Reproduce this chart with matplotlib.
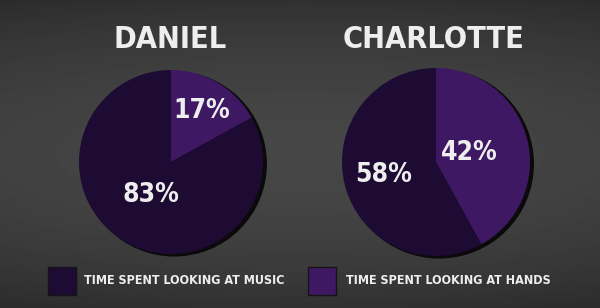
import numpy as np
import matplotlib.pyplot as plt
from matplotlib.patches import Circle, FancyBboxPatch

names = ['DANIEL', 'CHARLOTTE']
categories = ['TIME SPENT LOOKING AT MUSIC', 'TIME SPENT LOOKING AT HANDS']
music = [83, 58]
hands = [17, 42]

dark = '#1d0b33'
light = '#3e1862'
txt = '#eeeeee'
fam = ['DejaVu Sans']

W, H = 600, 308
fig = plt.figure(figsize=(6, 3.08), dpi=100)

# background gradient
bg = fig.add_axes([0, 0, 1, 1])
yy = np.linspace(0, 1, 200)[:, None]
xx = np.linspace(-1, 1, 300)[None, :]
grad = 0.19 + 0.085 * np.sin(np.pi * yy) ** 0.8 - 0.02 * xx ** 2
bg.imshow(grad, cmap='gray', vmin=0, vmax=1, aspect='auto', extent=[0, 1, 0, 1])
bg.set_axis_off()

centers = [(171, 162), (436, 162)]
radii = [92, 94]
# label distance from centre (fraction of radius) for hands, music
dists = [(0.65, 0.42), (0.37, 0.57)]
title_x = [170, 434]
m = 1.1

for i in range(2):
    cx, cy = centers[i]
    r = radii[i] * m
    ax = fig.add_axes([(cx - r) / W, (H - cy - r) / H, 2 * r / W, 2 * r / H])
    # dark shadow on the right
    ax.add_patch(Circle((0.035, -0.02), 1.0, color='#0a0a0a', zorder=0))
    wedges, _ = ax.pie([hands[i], music[i]], colors=[light, dark], startangle=90,
                       counterclock=False, radius=1.0,
                       wedgeprops=dict(linewidth=0))
    ax.set_xlim(-m, m)
    ax.set_ylim(-m, m)
    ax.set_aspect('equal')
    ax.set_axis_off()
    for w, val, d in zip(wedges, [hands[i], music[i]], dists[i]):
        ang = np.deg2rad((w.theta1 + w.theta2) / 2)
        ax.text(d * np.cos(ang), d * np.sin(ang), f'{val}%', color=txt,
                ha='center', va='center', fontsize=19, fontweight='bold',
                fontstretch='condensed', family=fam)
    fig.text(title_x[i] / W, 1 - 40 / H, names[i], color=txt, ha='center',
             va='center', fontsize=22, fontweight='bold',
             fontstretch='condensed', family=fam)

# legend
leg_sq = [48, 308]
leg_txt = [84, 346]
for i, (lab, col) in enumerate(zip(categories, [dark, light])):
    fig.patches.append(FancyBboxPatch((leg_sq[i] / W, 1 - 295 / H), 28 / W, 28 / H,
                                      boxstyle='square,pad=0', transform=fig.transFigure,
                                      facecolor=col, edgecolor='#141414', linewidth=1))
    fig.text(leg_txt[i] / W, 1 - 281 / H, lab, color=txt, ha='left', va='center',
             fontsize=9, fontweight='bold', fontstretch='condensed', family=fam)

fig.savefig('out.png', dpi=100)
